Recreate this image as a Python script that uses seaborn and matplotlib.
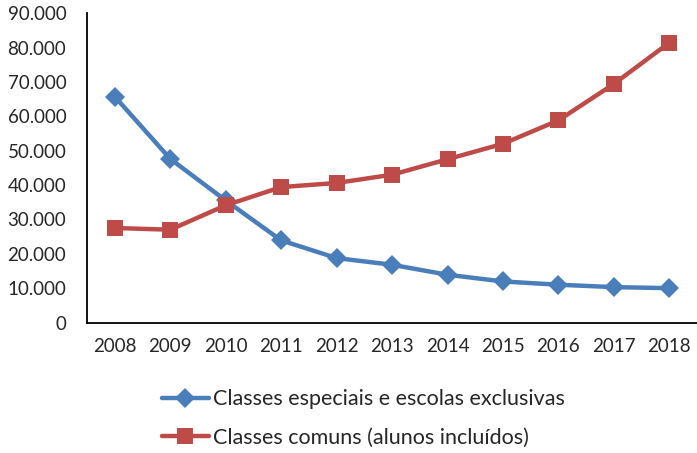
import numpy as np
import pandas as pd
import matplotlib
matplotlib.use("Agg")
import matplotlib.pyplot as plt
import seaborn as sns
from matplotlib.ticker import FuncFormatter

anos = [2008, 2009, 2010, 2011, 2012, 2013, 2014, 2015, 2016, 2017, 2018]
especiais = [65700, 47600, 35500, 23900, 18750, 16800, 13900, 11950, 11000, 10300, 10000]
comuns = [27500, 27000, 34100, 39400, 40600, 43000, 47500, 52000, 58800, 69400, 81400]
nomes = ["Classes especiais e escolas exclusivas", "Classes comuns (alunos incluídos)"]

sns.set_style("white")
plt.rcParams['font.family'] = ['Lato', 'DejaVu Sans']

df = pd.DataFrame({"ano": anos * 2,
                   "valor": especiais + comuns,
                   "serie": [nomes[0]] * len(anos) + [nomes[1]] * len(anos)})

fig = plt.figure(figsize=(6.97, 4.53), dpi=100)
ax = fig.add_axes([0.125, 0.288, 0.875, 0.683])

sns.lineplot(data=df, x="ano", y="valor", hue="serie", style="serie",
             palette=["#4A7EBB", "#BE4B48"], markers=["D", "s"], dashes=False,
             linewidth=3.2, markersize=11, markeredgewidth=0, ax=ax, legend=False)
# diamonds a bit smaller than squares
ax.lines[0].set_markersize(10)
ax.lines[1].set_markersize(12)

ax.set_xlim(2007.5, 2018.5)
ax.set_ylim(0, 90000)
ax.set_xticks(anos)
ax.set_yticks(np.arange(0, 90001, 10000))
ax.yaxis.set_major_formatter(FuncFormatter(lambda v, p: f"{int(v):,}".replace(",", ".")))
ax.set_xlabel("")
ax.set_ylabel("")
ax.tick_params(axis="both", labelsize=13.5, length=0)
ax.tick_params(axis="y", pad=15)
ax.tick_params(axis="x", pad=11)
for s in ["top", "right"]:
    ax.spines[s].set_visible(False)
for s in ["left", "bottom"]:
    ax.spines[s].set_color("black")
    ax.spines[s].set_linewidth(1.3)

handles = ax.lines[:2]
fig.legend(handles, nomes, loc="upper left", bbox_to_anchor=(0.232, 0.141),
           ncol=1, frameon=False, fontsize=15.5, handlelength=2.2,
           handletextpad=0.2, labelspacing=0.85, borderaxespad=0, borderpad=0)

fig.savefig("out.png", dpi=100)
